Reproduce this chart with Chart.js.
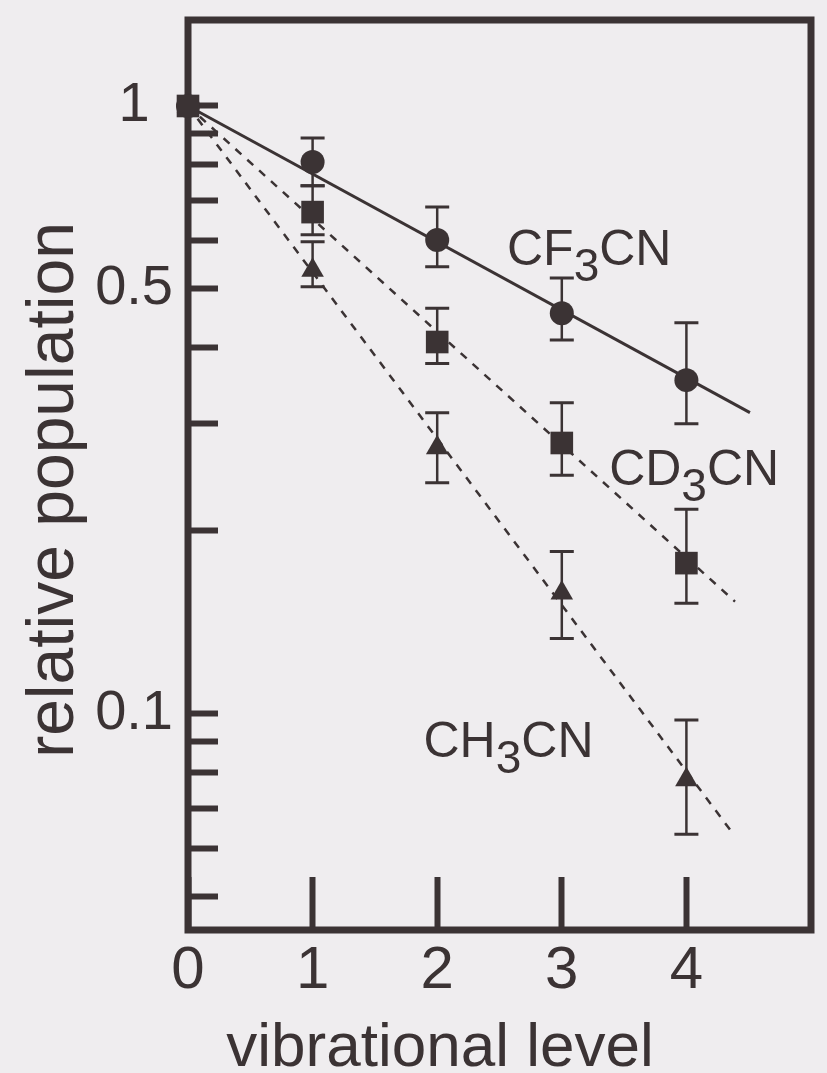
<!DOCTYPE html>
<html>
<head>
<meta charset="utf-8">
<script src="https://cdn.jsdelivr.net/npm/chart.js@4.4.1/dist/chart.umd.min.js"></script>
<style>
  html, body { margin: 0; padding: 0; background: #efedef; }
</style>
</head>
<body>
<canvas id="mycanvas" width="827" height="1073"></canvas>
<script>
// vibrational levels and relative populations
var levels = [0, 1, 2, 3, 4];

var cf3cnPop  = [1, 0.809, 0.602, 0.456, 0.354];
var cf3cnHigh = [null, 0.886, 0.682, 0.521, 0.440];
var cf3cnLow  = [null, 0.739, 0.544, 0.412, 0.300];

var cd3cnPop  = [1, 0.669, 0.409, 0.279, 0.177];
var cd3cnHigh = [null, 0.739, 0.465, 0.325, 0.217];
var cd3cnLow  = [null, 0.614, 0.377, 0.247, 0.152];

var ch3cnPop  = [1, 0.537, 0.274, 0.158, 0.0779];
var ch3cnHigh = [null, 0.598, 0.313, 0.185, 0.0977];
var ch3cnLow  = [null, 0.504, 0.240, 0.133, 0.0634];

// fitted lines (end points)
var cf3cnFitX = [0, 4.51];
var cf3cnFitY = [1, 0.313];
var cd3cnFitX = [0, 4.39];
var cd3cnFitY = [1, 0.153];
var ch3cnFitX = [0, 4.35];
var ch3cnFitY = [1, 0.0645];

// axes
var xTicks = [0, 1, 2, 3, 4];
var yTicks = [0.05, 0.06, 0.07, 0.08, 0.09, 0.1, 0.2, 0.3, 0.4, 0.5, 0.6, 0.7, 0.8, 0.9, 1];
var yTickLabels = [1, 0.5, 0.1];

// curve labels: formula parts and anchor in data units
var speciesParts = [["CF", "3", "CN"], ["CD", "3", "CN"], ["CH", "3", "CN"]];
var speciesX = [2.56, 3.38, 1.89];
var speciesY = [0.548, 0.238, 0.085];

var ink = "#3b3334";
var paper = "#efedef";
var fontFam = "'Liberation Sans', Arial, Helvetica, sans-serif";

function pts(xs, ys) {
	var out = [];
	for (var i in xs) {
		out.push({x: xs[i], y: ys[i]});
	}
	return out;
}

var paperPlugin = {
	id: "paper",
	beforeDraw: function(chart) {
		var c = chart.ctx;
		c.save();
		c.fillStyle = paper;
		c.fillRect(0, 0, chart.width, chart.height);
		c.restore();
	}
};

var framePlugin = {
	id: "frame",
	beforeDatasetsDraw: function(chart) {
		var c = chart.ctx, a = chart.chartArea;
		c.save();
		c.strokeStyle = ink;
		c.lineWidth = 7;
		c.strokeRect(a.left, a.top, a.right - a.left, a.bottom - a.top);

		// error bars
		var xs = chart.scales.x, ys = chart.scales.y;
		var sets = [[cf3cnHigh, cf3cnLow], [cd3cnHigh, cd3cnLow], [ch3cnHigh, ch3cnLow]];
		for (var s = 0; s < sets.length; s++) {
			var hi = sets[s][0], lo = sets[s][1];
			for (var i = 0; i < levels.length; i++) {
				if (hi[i] == null) continue;
				var px = xs.getPixelForValue(levels[i]);
				var yh = ys.getPixelForValue(hi[i]);
				var yl = ys.getPixelForValue(lo[i]);
				c.lineWidth = 2.5;
				c.beginPath();
				c.moveTo(px, yh);
				c.lineTo(px, yl);
				c.stroke();
				c.lineWidth = 3;
				c.beginPath();
				c.moveTo(px - 12, yh);
				c.lineTo(px + 12, yh);
				c.moveTo(px - 12, yl);
				c.lineTo(px + 12, yl);
				c.stroke();
			}
		}
		c.restore();
	}
};

var textPlugin = {
	id: "texts",
	afterDraw: function(chart) {
		var c = chart.ctx;
		var xs = chart.scales.x, ys = chart.scales.y;
		c.save();
		c.fillStyle = ink;
		c.textBaseline = "alphabetic";
		c.textAlign = "left";
		for (var i = 0; i < speciesParts.length; i++) {
			var px = xs.getPixelForValue(speciesX[i]);
			var py = ys.getPixelForValue(speciesY[i]);
			c.font = "50px " + fontFam;
			c.fillText(speciesParts[i][0], px, py);
			px += c.measureText(speciesParts[i][0]).width;
			c.font = "46px " + fontFam;
			c.fillText(speciesParts[i][1], px, py + 16);
			px += c.measureText(speciesParts[i][1]).width;
			c.font = "50px " + fontFam;
			c.fillText(speciesParts[i][2], px, py);
		}

		// axis titles
		c.font = "62px " + fontFam;
		c.textAlign = "center";
		c.fillText("vibrational level", 440, 1066);

		c.translate(73, 490);
		c.rotate(-Math.PI / 2);
		c.font = "66px " + fontFam;
		c.fillText("relative population", 0, 0);
		c.restore();
	}
};

var ctx = document.getElementById("mycanvas");

var chart = new Chart(ctx, {
	type: "scatter",
	data: {
		datasets: [
			{
				label: "CD3CN",
				data: pts(levels, cd3cnPop),
				pointStyle: "rect",
				pointRadius: 16,
				backgroundColor: ink,
				borderColor: ink,
				borderWidth: 0,
				clip: false
			},
			{
				label: "CF3CN",
				data: pts(levels, cf3cnPop),
				pointStyle: "circle",
				pointRadius: 12,
				backgroundColor: ink,
				borderColor: ink,
				borderWidth: 0,
				clip: false
			},
			{
				label: "CH3CN",
				data: pts(levels, ch3cnPop),
				pointStyle: "triangle",
				pointRadius: 13,
				backgroundColor: ink,
				borderColor: ink,
				borderWidth: 0,
				clip: false
			},
			{
				label: "CF3CN fit",
				data: pts(cf3cnFitX, cf3cnFitY),
				showLine: true,
				pointRadius: 0,
				borderColor: ink,
				borderWidth: 3,
				clip: false
			},
			{
				label: "CD3CN fit",
				data: pts(cd3cnFitX, cd3cnFitY),
				showLine: true,
				pointRadius: 0,
				borderColor: ink,
				borderWidth: 2.5,
				borderDash: [8, 8],
				clip: false
			},
			{
				label: "CH3CN fit",
				data: pts(ch3cnFitX, ch3cnFitY),
				showLine: true,
				pointRadius: 0,
				borderColor: ink,
				borderWidth: 2.5,
				borderDash: [8, 8],
				clip: false
			}
		]
	},
	options: {
		responsive: false,
		animation: false,
		layout: { padding: { left: 0, top: 20, right: 3, bottom: 0 } },
		plugins: {
			legend: { display: false },
			tooltip: { enabled: false }
		},
		scales: {
			x: {
				type: "linear",
				min: 0,
				max: 5,
				afterBuildTicks: function(scale) {
					scale.ticks = xTicks.map(function(v) { return {value: v}; });
				},
				afterFit: function(scale) {
					scale.height = 143;
					scale.paddingLeft = 0;
					scale.paddingRight = 0;
				},
				border: { display: false },
				grid: {
					drawOnChartArea: false,
					drawTicks: true,
					tickLength: -53,
					tickWidth: 6,
					tickColor: ink
				},
				ticks: {
					color: ink,
					padding: 58,
					maxRotation: 0,
					autoSkip: false,
					font: { family: fontFam, size: 60 },
					callback: function(v) { return String(v); }
				}
			},
			y: {
				type: "logarithmic",
				min: 0.0441,
				max: 1.385,
				afterBuildTicks: function(scale) {
					scale.ticks = yTicks.map(function(v) { return {value: v}; });
				},
				afterFit: function(scale) {
					scale.width = 188;
					scale.paddingTop = 0;
					scale.paddingBottom = 0;
				},
				border: { display: false },
				grid: {
					drawOnChartArea: false,
					drawTicks: true,
					tickLength: -30,
					tickWidth: 6,
					tickColor: ink
				},
				ticks: {
					color: ink,
					padding: 45,
					crossAlign: "center",
					autoSkip: false,
					font: { family: fontFam, size: 56 },
					callback: function(v) {
						return yTickLabels.indexOf(v) >= 0 ? String(v) : "";
					}
				}
			}
		}
	},
	plugins: [paperPlugin, framePlugin, textPlugin]
});
</script>
</body>
</html>
